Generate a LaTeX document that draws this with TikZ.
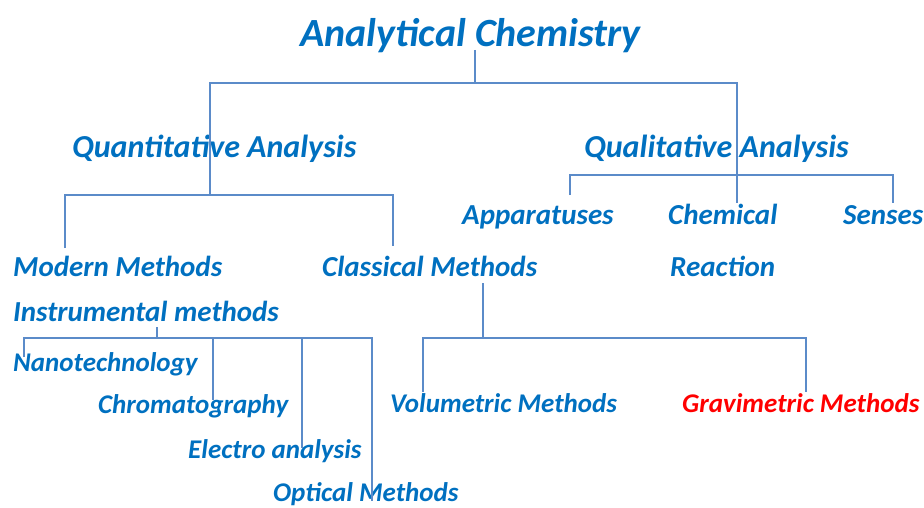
\documentclass[tikz,border=0pt]{standalone}
\usepackage{fontspec}
\setmainfont{Carlito}
\definecolor{chemblue}{HTML}{0070C0}
\definecolor{linkblue}{HTML}{5B8BC9}
\definecolor{gravred}{HTML}{FF0000}
\tikzset{
  lbl/.style={anchor=base west, inner sep=0pt, text=chemblue},
  head/.style={lbl, font=\fontsize{40}{44}\selectfont\bfseries\itshape},
  branch/.style={lbl, font=\fontsize{32}{36}\selectfont\bfseries\itshape},
  method/.style={lbl, font=\fontsize{29}{33}\selectfont\bfseries\itshape},
  leaf/.style={lbl, font=\fontsize{27}{31}\selectfont\bfseries\itshape},
  link/.style={draw=linkblue, line width=1.1pt},
}
\begin{document}
\begin{tikzpicture}[x=1pt,y=-1pt]
\useasboundingbox (0,0) rectangle (924,508);
% labels
\node[head] (title) at (300,47) {Analytical Chemistry};
\node[branch] (quant) at (72,158) {Quantitative Analysis};
\node[branch] (qual) at (584,158) {Qualitative Analysis};
\node[method] (app) at (462,224) {Apparatuses};
\node[method] (chem) at (668,224) {Chemical};
\node[method] (sen) at (843,224) {Senses};
\node[method] (react) at (670,276) {Reaction};
\node[method] (modern) at (13,276) {Modern Methods};
\node[method] (classic) at (322,276) {Classical Methods};
\node[method] (instr) at (13,321) {Instrumental methods};
\node[leaf] (nano) at (13,371) {Nanotechnology};
\node[leaf] (chrom) at (98,413) {Chromatography};
\node[leaf] (electro) at (188,458) {Electro analysis};
\node[leaf] (optic) at (273,501) {Optical Methods};
\node[leaf] (vol) at (390,412) {Volumetric Methods};
\node[leaf, text=gravred] (grav) at (682,412) {Gravimetric Methods};
% junctions
\coordinate (c-title) at (475,50);
\coordinate (c-main) at (475,83);
\coordinate (c-quant) at (210,195);
\coordinate (c-qual) at (737,203);
\coordinate (c-qbar) at (737,175);
\coordinate (c-app) at (570,195);
\coordinate (c-sen) at (893,203);
\coordinate (c-modern) at (65,248);
\coordinate (c-classic) at (393,246);
\coordinate (c-insttop) at (157,327);
\coordinate (c-inst) at (157,338);
\coordinate (c-nano) at (24,357);
\coordinate (c-chrom) at (213,400);
\coordinate (c-electro) at (302,448);
\coordinate (c-optic) at (372,501);
\coordinate (c-clstop) at (483,283);
\coordinate (c-cls) at (483,338);
\coordinate (c-vol) at (423,392);
\coordinate (c-grav) at (806,392);
% connectors
\draw[link] (c-title) -- (c-main);
\draw[link] (c-quant) |- (c-main) -| (c-qual);
\draw[link] (c-app) |- (c-qbar) -| (c-sen);
\draw[link] (c-modern) |- (c-quant) -| (c-classic);
\draw[link] (c-insttop) -- (c-inst);
\draw[link] (c-nano) |- (c-inst) -| (c-optic);
\draw[link] (c-chrom) -- (c-chrom |- c-inst);
\draw[link] (c-electro) -- (c-electro |- c-inst);
\draw[link] (c-clstop) -- (c-cls);
\draw[link] (c-vol) |- (c-cls) -| (c-grav);
\end{tikzpicture}
\end{document}
